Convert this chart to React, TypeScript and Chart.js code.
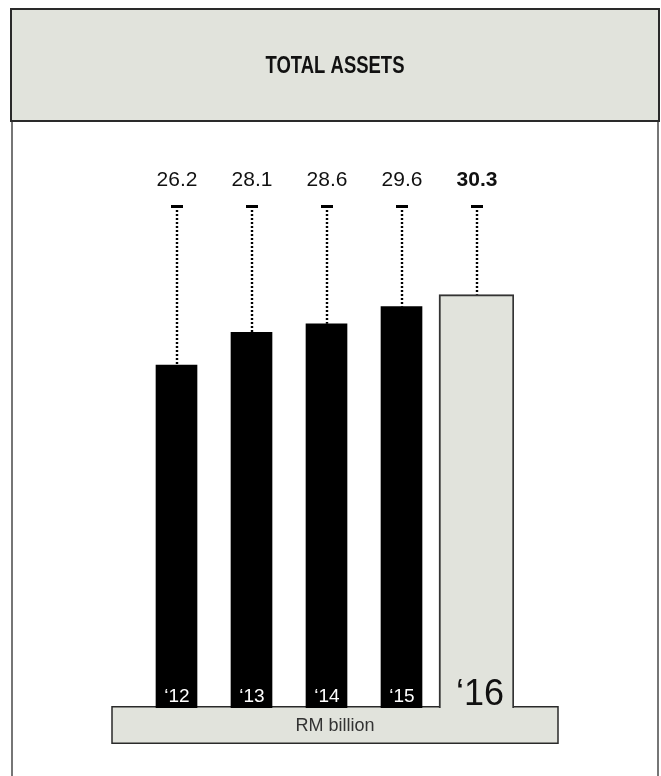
import React, { useEffect, useRef } from "react";
import { Chart, registerables } from "chart.js";

Chart.register(...registerables);

const categories = ["\u201812", "\u201813", "\u201814", "\u201815", "\u201816"];
const previousYears = [26.2, 28.1, 28.6, 29.6, null];
const currentYear = [null, null, null, null, 30.3];
const valueLabels = ["26.2", "28.1", "28.6", "29.6", "30.3"];
const chartTitle = "TOTAL ASSETS";
const unitLabel = "RM billion";

const PANEL = "#e1e3dc";
const EDGE = "#2a2a2a";
const SANS = "'Liberation Sans', Arial, Helvetica, sans-serif";

const decorPlugin = {
  id: "decor",
  beforeDraw(chart: any) {
    const ctx = chart.ctx;
    ctx.save();
    // side frame lines
    ctx.strokeStyle = "#4a4a4a";
    ctx.lineWidth = 1.5;
    ctx.beginPath();
    ctx.moveTo(12, 121);
    ctx.lineTo(12, 776);
    ctx.moveTo(658, 121);
    ctx.lineTo(658, 776);
    ctx.stroke();
    // header box
    ctx.fillStyle = PANEL;
    ctx.fillRect(11, 9, 648, 112);
    ctx.strokeStyle = EDGE;
    ctx.lineWidth = 2;
    ctx.strokeRect(11, 9, 648, 112);
    // title (condensed look)
    ctx.fillStyle = "#111";
    ctx.font = "bold 22px " + SANS;
    ctx.textAlign = "center";
    ctx.textBaseline = "middle";
    ctx.translate(335, 67);
    ctx.scale(0.84, 1.05);
    ctx.fillText(chartTitle, 0, 0);
    ctx.restore();
  },
  beforeDatasetsDraw(chart: any) {
    const ctx = chart.ctx;
    ctx.save();
    ctx.fillStyle = PANEL;
    ctx.fillRect(112, 706, 446, 37);
    ctx.strokeStyle = EDGE;
    ctx.lineWidth = 1.5;
    ctx.strokeRect(112, 706.75, 446, 36.5);
    ctx.restore();
  },
  afterDatasetsDraw(chart: any) {
    const ctx = chart.ctx;
    const top = chart.chartArea.top;
    const bottom = chart.chartArea.bottom;
    ctx.save();
    chart.data.labels.forEach((label: string, i: number) => {
      let el: any = null;
      chart.data.datasets.forEach((ds: any, d: number) => {
        if (ds.data[i] !== null && ds.data[i] !== undefined) {
          el = chart.getDatasetMeta(d).data[i];
        }
      });
      if (!el) return;
      const isLast = i === chart.data.labels.length - 1;
      const x = Math.round(el.x);
      // value label
      ctx.fillStyle = "#111";
      ctx.textAlign = "center";
      ctx.textBaseline = "alphabetic";
      ctx.font = (isLast ? "bold " : "") + "21px " + SANS;
      ctx.fillText(valueLabels[i], x, top + 56);
      // dash
      ctx.fillStyle = "#000";
      ctx.fillRect(x - 6, top + 75, 12, 3);
      // dotted leader
      ctx.strokeStyle = "#000";
      ctx.lineWidth = 2.4;
      ctx.setLineDash([2, 2]);
      ctx.beginPath();
      ctx.moveTo(x, top + 80);
      ctx.lineTo(x, el.y);
      ctx.stroke();
      ctx.setLineDash([]);
      // year label
      if (isLast) {
        ctx.fillStyle = "#111";
        ctx.font = "36px " + SANS;
        ctx.fillText(label, x + 3, bottom - 3);
      } else {
        ctx.fillStyle = "#fff";
        ctx.font = "19px " + SANS;
        ctx.fillText(label, x, bottom - 6);
      }
    });
    // unit label
    ctx.fillStyle = "#333";
    ctx.font = "18px " + SANS;
    ctx.textAlign = "center";
    ctx.textBaseline = "middle";
    ctx.fillText(unitLabel, 335, 726);
    ctx.restore();
  },
};

export default function App() {
  const ref = useRef<HTMLCanvasElement>(null);
  useEffect(() => {
    if (!ref.current) return;
    const chart = new Chart(ref.current, {
      type: "bar",
      data: {
        labels: categories,
        datasets: [
          {
            label: "Previous years",
            data: previousYears,
            backgroundColor: "#000",
            borderWidth: 0,
            barThickness: 41,
          },
          {
            label: "2016",
            data: currentYear,
            backgroundColor: PANEL,
            borderColor: "#333",
            borderWidth: 2,
            borderSkipped: "bottom",
            barThickness: 75,
          },
        ],
      },
      plugins: [decorPlugin],
      options: {
        animation: false,
        responsive: false,
        devicePixelRatio: 1,
        layout: { padding: { left: 139, right: 147, top: 130, bottom: 68 } },
        plugins: { legend: { display: false }, tooltip: { enabled: false }, title: { display: false } },
        scales: {
          x: { display: false, stacked: true, offset: true, grid: { display: false } },
          y: { display: false, min: 6.2, max: 39.9, grid: { display: false } },
        },
      },
    } as any);
    return () => chart.destroy();
  }, []);
  return (
    <div style={{ position: "absolute", left: 0, top: 0, width: 661, height: 776, background: "#fff" }}>
      <canvas ref={ref} width={661} height={776} style={{ display: "block" }} />
    </div>
  );
}
